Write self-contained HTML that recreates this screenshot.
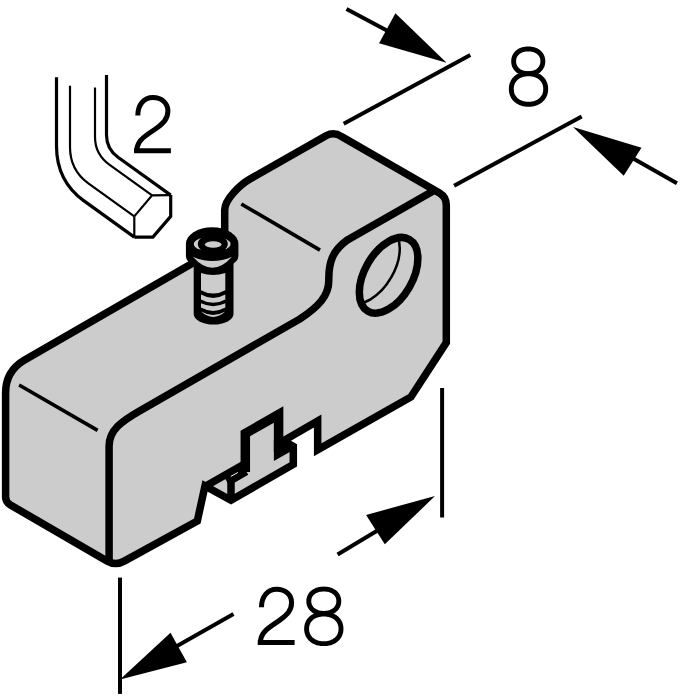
<!DOCTYPE html>
<html><head><meta charset="utf-8">
<style>
html,body{margin:0;padding:0;background:#fff;width:681px;height:700px;overflow:hidden}
svg{display:block}
body{font-family:"Liberation Sans",sans-serif}

</style></head>
<body>
<svg width="681" height="700" viewBox="0 0 681 700">
<defs>
<clipPath id="holeclip"><circle r="33.8" transform="matrix(0.866,-0.5,0,1,388.6,275.3)"/></clipPath>
</defs>

<!-- dimension 8 -->
<g stroke="#000" stroke-width="4" fill="none">
<line x1="343.7" y1="123.8" x2="470.3" y2="55"/>
<line x1="454.1" y1="185.8" x2="581.7" y2="116.4"/>
<line x1="346.5" y1="8.9" x2="400" y2="37.5"/>
<line x1="676.9" y1="183.2" x2="620" y2="151"/>
<!-- dimension 28 -->
<line x1="120" y1="577.6" x2="120" y2="693.9"/>
<line x1="442.1" y1="388.1" x2="442.1" y2="517.6"/>
<line x1="233.5" y1="614" x2="170" y2="650"/>
<line x1="337.6" y1="554.5" x2="385" y2="526"/>
</g>
<g fill="#000">
<polygon points="446.6,62.7 395.4,13.2 379.1,43.3"/>
<polygon points="573,127 641.5,147.7 623.7,175.8"/>
<polygon points="120,679.5 170.5,632.8 186.9,662.2"/>
<polygon points="435,496.1 366.1,514.9 384.8,544.2"/>
</g>

<!-- hex key -->
<g stroke="#000" fill="none" stroke-linejoin="miter">
<path d="M56.5,77.2 V146 Q56.5,181.1 84,200.9 L134.3,237.1" stroke-width="3.2"/>
<path d="M70,85.8 V147 Q70,169.9 88,183.1 L134.3,216.4" stroke-width="2.2"/>
<path d="M95,87.5 V137 Q95,154.6 110,165.1 L152.1,195.4" stroke-width="2.2"/>
<path d="M106.5,75 V135 Q106.5,149 118,157.2 L170.7,195.1" stroke-width="3.2"/>
<path d="M134.3,216.4 L152.1,195.4 L170.7,195.1" stroke-width="2.2"/>
<path d="M134.3,216.4 V237.1" stroke-width="2.2"/>
<path d="M170.7,195.1 V216.4 L152.9,237.1 H134.3" stroke-width="3.2"/>
</g>

<!-- block body -->
<path fill="#cccccc" stroke="#000" stroke-width="7.5" stroke-linejoin="miter" stroke-miterlimit="2.1" d="
M5.6,393 Q5.6,371.1 24.6,360.1
L224.7,244.7 L224.7,210 C224.7,199 240.5,184.5 250,179
L326,135.8 Q334,131.5 341.5,136.5
L439.5,193 Q446.3,197 446.3,205
L446.3,342.6 L410.9,397 L317.65,449.8 L317.65,421 L283.5,440.7 L293.3,446.5
L293.3,464.4 L231,500.3 L205,486 L197.3,521
L124.2,561.1 Q115.4,566 107,561 L10.5,505 Q5.6,502.2 5.6,497 Z"/>

<!-- inner edges -->
<g stroke="#000" fill="none">
<line x1="19.1" y1="385" x2="97.6" y2="430.3" stroke-width="3.7"/>
<line x1="241.3" y1="204" x2="320" y2="250.2" stroke-width="3.7"/>
<path stroke-width="7.5" d="M109.1,561 V446 C109.1,430 122,421 140,410.7 L300,318.9 C318,307 329,296 328.8,280 C328.6,263 332,251 347.5,239.9 L434.5,190.2"/>
</g>

<!-- hole -->
<g clip-path="url(#holeclip)"><circle r="33.8" transform="matrix(0.866,-0.5,0,1,370.5,265.5)" fill="none" stroke="#000" stroke-width="2.5" vector-effect="non-scaling-stroke"/></g>
<circle r="33.8" transform="matrix(0.866,-0.5,0,1,388.6,275.3)" fill="none" stroke="#000" stroke-width="7.5" vector-effect="non-scaling-stroke"/>

<!-- T-nut -->
<g stroke="#000" fill="none">
<path d="M205,486.5 L245.3,463.4" stroke-width="7.5"/>
<path d="M231,500.3 V480" stroke-width="7.5"/>
<path d="M227,481.8 L246,470.8" stroke-width="9"/>
<path d="M245.3,472 V433.5 L278.6,414.5 V452" stroke-width="9.5" stroke-linejoin="miter"/>
<polygon fill="#000" stroke="none" points="273.85,440 284,440 293.3,445 293.3,450 273.85,461"/>
<path d="M230.8,476.4 L237.8,472.5" stroke="#fff" stroke-width="1"/>
</g>
<!-- screw -->
<g>
<path fill="#000" d="M193.7,262 V314 A19.9,10.5 0 0 0 233.5,314 V262 Z"/>
<g fill="#cccccc">
<path d="M201,273 Q213.2,277 225.3,273 V290.2 Q213.2,297 201,290.2 Z"/>
<path d="M201,294.5 Q213.2,301.3 225.3,294.5 V299.4 Q213.2,306.2 201,299.4 Z"/>
<path d="M201,303.3 Q213.2,309.1 225.3,303.3 V307.6 Q213.2,314.4 201,307.6 Z"/>
<path d="M201,311.5 Q213.2,318.3 225.3,311.5 Q213.2,322.3 201,311.5 Z"/>
</g>
<path fill="#000" d="M185.9,244 A26.25,16.8 0 0 1 238.4,244 V256 A26.25,13 0 0 1 185.9,256 Z"/>
<ellipse cx="212.2" cy="244" rx="18.4" ry="7.6" fill="#cccccc"/>
<ellipse cx="212.8" cy="244" rx="15" ry="9.4" fill="#000"/>
<ellipse cx="213.2" cy="244.5" rx="8.3" ry="3.3" fill="#cccccc"/>
<path fill="#cccccc" d="M192.9,256.7 Q212.4,265.3 232,256.7 Q212.4,278.7 192.9,256.7 Z"/>
</g>

<!-- labels -->
<g transform="translate(134.1,95)" fill="none" stroke="#000" stroke-width="5">
<path d="M3.7,20.6 C3.7,9.5 10,2.6 18.8,2.6 C28,2.6 33.8,8.5 33.8,16 C33.8,24 29,28.5 22,33.5 L14,39 C6,44.5 2.5,49 2.5,57"/>
<path d="M0,55.8 H36.8"/>
</g>
<g transform="translate(257.8,586.6)" fill="none" stroke="#000" stroke-width="5">
<path d="M3.7,20.6 C3.7,9.5 10,2.6 18.8,2.6 C28,2.6 33.8,8.5 33.8,16 C33.8,24 29,28.5 22,33.5 L14,39 C6,44.5 2.5,49 2.5,57"/>
<path d="M0,55.8 H36.8"/>
</g>
<g fill="none" stroke="#000" stroke-width="4.9" stroke-linejoin="round">
<path d="M542.85,61.30 L542.80,62.58 L542.64,63.72 L542.39,64.81 L542.03,65.85 L541.57,66.84 L541.02,67.78 L540.38,68.66 L539.64,69.49 L538.83,70.25 L537.93,70.94 L536.96,71.56 L535.91,72.10 L534.80,72.57 L533.63,72.96 L532.40,73.26 L531.11,73.48 L529.76,73.61 L528.25,73.65 L526.74,73.61 L525.39,73.48 L524.10,73.26 L522.87,72.96 L521.70,72.57 L520.59,72.10 L519.54,71.56 L518.57,70.94 L517.67,70.25 L516.86,69.49 L516.12,68.66 L515.48,67.78 L514.93,66.84 L514.47,65.85 L514.11,64.81 L513.86,63.72 L513.70,62.58 L513.65,61.30 L513.70,60.02 L513.86,58.88 L514.11,57.79 L514.47,56.75 L514.93,55.76 L515.48,54.82 L516.12,53.94 L516.86,53.11 L517.67,52.35 L518.57,51.66 L519.54,51.04 L520.59,50.50 L521.70,50.03 L522.87,49.64 L524.10,49.34 L525.39,49.12 L526.74,48.99 L528.25,48.95 L529.76,48.99 L531.11,49.12 L532.40,49.34 L533.63,49.64 L534.80,50.03 L535.91,50.50 L536.96,51.04 L537.93,51.66 L538.83,52.35 L539.64,53.11 L540.38,53.94 L541.02,54.82 L541.57,55.76 L542.03,56.75 L542.39,57.79 L542.64,58.88 L542.80,60.02Z"/>
<path d="M545.70,89.00 L545.64,90.58 L545.46,91.99 L545.15,93.34 L544.73,94.62 L544.20,95.84 L543.55,97.00 L542.79,98.09 L541.92,99.11 L540.96,100.05 L539.90,100.90 L538.76,101.67 L537.53,102.34 L536.22,102.92 L534.84,103.39 L533.39,103.77 L531.87,104.03 L530.28,104.20 L528.50,104.25 L526.72,104.20 L525.13,104.03 L523.61,103.77 L522.16,103.39 L520.78,102.92 L519.47,102.34 L518.24,101.67 L517.10,100.90 L516.04,100.05 L515.08,99.11 L514.21,98.09 L513.45,97.00 L512.80,95.84 L512.27,94.62 L511.85,93.34 L511.54,91.99 L511.36,90.58 L511.30,89.00 L511.36,87.42 L511.54,86.01 L511.85,84.66 L512.27,83.38 L512.80,82.16 L513.45,81.00 L514.21,79.91 L515.08,78.89 L516.04,77.95 L517.10,77.10 L518.24,76.33 L519.47,75.66 L520.78,75.08 L522.16,74.61 L523.61,74.23 L525.13,73.97 L526.72,73.80 L528.50,73.75 L530.28,73.80 L531.87,73.97 L533.39,74.23 L534.84,74.61 L536.22,75.08 L537.53,75.66 L538.76,76.33 L539.90,77.10 L540.96,77.95 L541.92,78.89 L542.79,79.91 L543.55,81.00 L544.20,82.16 L544.73,83.38 L545.15,84.66 L545.46,86.01 L545.64,87.42Z"/>
<path d="M338.80,601.20 L338.75,602.46 L338.59,603.58 L338.32,604.66 L337.96,605.68 L337.49,606.65 L336.92,607.58 L336.26,608.44 L335.51,609.25 L334.67,610.00 L333.74,610.68 L332.74,611.29 L331.67,611.83 L330.53,612.29 L329.33,612.67 L328.07,612.96 L326.74,613.18 L325.35,613.31 L323.80,613.35 L322.25,613.31 L320.86,613.18 L319.53,612.96 L318.27,612.67 L317.07,612.29 L315.93,611.83 L314.86,611.29 L313.86,610.68 L312.93,610.00 L312.09,609.25 L311.34,608.44 L310.68,607.58 L310.11,606.65 L309.64,605.68 L309.28,604.66 L309.01,603.58 L308.85,602.46 L308.80,601.20 L308.85,599.94 L309.01,598.82 L309.28,597.74 L309.64,596.72 L310.11,595.75 L310.68,594.82 L311.34,593.96 L312.09,593.15 L312.93,592.40 L313.86,591.72 L314.86,591.11 L315.93,590.57 L317.07,590.11 L318.27,589.73 L319.53,589.44 L320.86,589.22 L322.25,589.09 L323.80,589.05 L325.35,589.09 L326.74,589.22 L328.07,589.44 L329.33,589.73 L330.53,590.11 L331.67,590.57 L332.74,591.11 L333.74,591.72 L334.67,592.40 L335.51,593.15 L336.26,593.96 L336.92,594.82 L337.49,595.75 L337.96,596.72 L338.32,597.74 L338.59,598.82 L338.75,599.94Z"/>
<path d="M341.00,628.85 L340.94,630.38 L340.76,631.75 L340.45,633.06 L340.03,634.31 L339.50,635.49 L338.85,636.62 L338.09,637.67 L337.22,638.66 L336.26,639.57 L335.20,640.40 L334.06,641.14 L332.83,641.80 L331.52,642.36 L330.14,642.82 L328.69,643.18 L327.17,643.44 L325.58,643.60 L323.80,643.65 L322.02,643.60 L320.43,643.44 L318.91,643.18 L317.46,642.82 L316.08,642.36 L314.77,641.80 L313.54,641.14 L312.40,640.40 L311.34,639.57 L310.38,638.66 L309.51,637.67 L308.75,636.62 L308.10,635.49 L307.57,634.31 L307.15,633.06 L306.84,631.75 L306.66,630.38 L306.60,628.85 L306.66,627.32 L306.84,625.95 L307.15,624.64 L307.57,623.39 L308.10,622.21 L308.75,621.08 L309.51,620.03 L310.38,619.04 L311.34,618.13 L312.40,617.30 L313.54,616.56 L314.77,615.90 L316.08,615.34 L317.46,614.88 L318.91,614.52 L320.43,614.26 L322.02,614.10 L323.80,614.05 L325.58,614.10 L327.17,614.26 L328.69,614.52 L330.14,614.88 L331.52,615.34 L332.83,615.90 L334.06,616.56 L335.20,617.30 L336.26,618.13 L337.22,619.04 L338.09,620.03 L338.85,621.08 L339.50,622.21 L340.03,623.39 L340.45,624.64 L340.76,625.95 L340.94,627.32Z"/>
</g>
</svg>
</body></html>
